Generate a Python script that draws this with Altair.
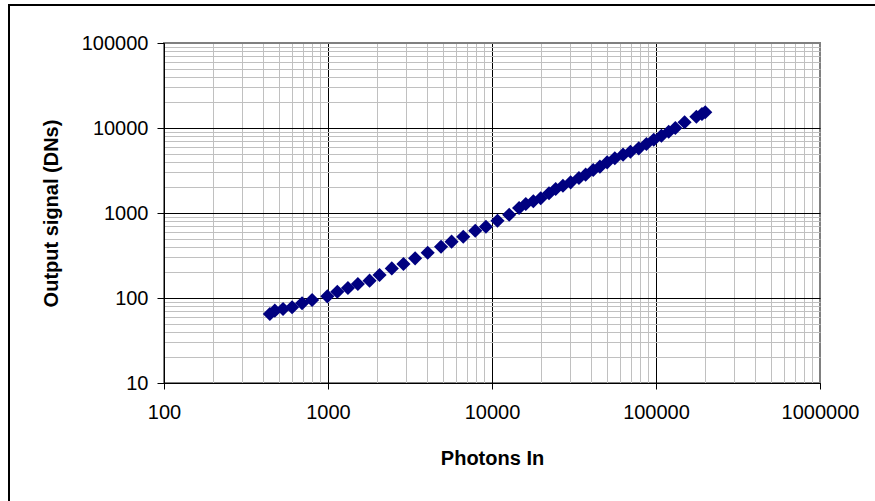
import altair as alt
import pandas as pd

photons = [442, 474, 532, 604, 695, 800, 991, 1140, 1323, 1521, 1793, 2062, 2449, 2885,
           3398, 4054, 4890, 5670, 6680, 7907, 9183, 10800, 12730, 14630, 16070, 17870,
           19820, 22270, 24450, 27080, 30170, 33900, 37230, 41420, 45500, 50370, 56100,
           62980, 69840, 78490, 87420, 96900, 107900, 119500, 131200, 149400, 176300,
           190700, 199700]
signal = [64.8, 71, 74.3, 77.8, 86.7, 94.7, 104.7, 118.6, 131, 146, 160, 186.6, 223, 251,
          293, 341, 401, 460, 526, 619, 690, 811, 955, 1145, 1276, 1373, 1490, 1706, 1916,
          2095, 2296, 2581, 2824, 3209, 3509, 3948, 4402, 4855, 5262, 5768, 6482, 7284,
          8116, 9036, 10000, 11670, 13580, 14620, 15310]

x_ticks = [m * 10 ** e for e in range(2, 6) for m in range(1, 10)] + [1000000]
y_ticks = [m * 10 ** e for e in range(1, 5) for m in range(1, 10)] + [100000]

df = pd.DataFrame({"photons": photons, "signal": signal})

MAJOR = "abs(log(datum.value)/LN10 - round(log(datum.value)/LN10)) < 0.001"
FONT = "Liberation Sans"


def make_axis(values, top_value, title, tick_size, label_padding, **kw):
    return alt.Axis(
        values=values,
        title=title,
        labelExpr=f"({MAJOR}) ? format(datum.value, 'd') : ''",
        gridColor={
            "condition": [
                {"test": f"datum.value == {top_value}", "value": "#808080"},
                {"test": MAJOR, "value": "#000000"},
            ],
            "value": "#c0c0c0",
        },
        gridWidth=1,
        tickOpacity={"condition": {"test": MAJOR, "value": 1}, "value": 0},
        tickSize=tick_size,
        tickColor="#000000",
        domainColor="#000000",
        labelFont=FONT,
        labelFontSize=20,
        labelColor="#000000",
        labelPadding=label_padding,
        labelOverlap=False,
        labelFlush=False,
        titleFont=FONT,
        titleFontSize=20,
        titleFontWeight="bold",
        titleColor="#000000",
        **kw,
    )


points = alt.Chart(df).mark_point(
    shape="diamond", filled=True, size=200, color="#000080", opacity=1
).encode(
    x=alt.X("photons:Q",
            scale=alt.Scale(type="log", domain=[100, 1000000], nice=False),
            axis=make_axis(x_ticks, 1000000, "Photons In", 6, 13,
                           titleY=81, titleBaseline="alphabetic", titleX=328, titleAlign="center")),
    y=alt.Y("signal:Q",
            scale=alt.Scale(type="log", domain=[10, 100000], nice=False),
            axis=make_axis(y_ticks, 100000, "Output signal (DNs)", 7, 9,
                           titleX=-107, titleY=170, titleBaseline="alphabetic",
                           titleAlign="center", titleAngle=-90)),
)

border = alt.Chart(alt.Data(values=[{}])).mark_rect(
    fill=None, stroke="#000000", strokeWidth=2
).encode(
    x=alt.value(-155), x2=alt.value(730), y=alt.value(-38), y2=alt.value(480)
)

chart = alt.layer(points, border).properties(
    width=656,
    height=340,
    padding={"left": 164, "top": 43, "right": 55, "bottom": 118},
    autosize="none",
    background="#ffffff",
).configure_view(stroke="#808080", strokeWidth=2)

chart.save("out.html", embed_options={"renderer": "svg", "actions": False})
